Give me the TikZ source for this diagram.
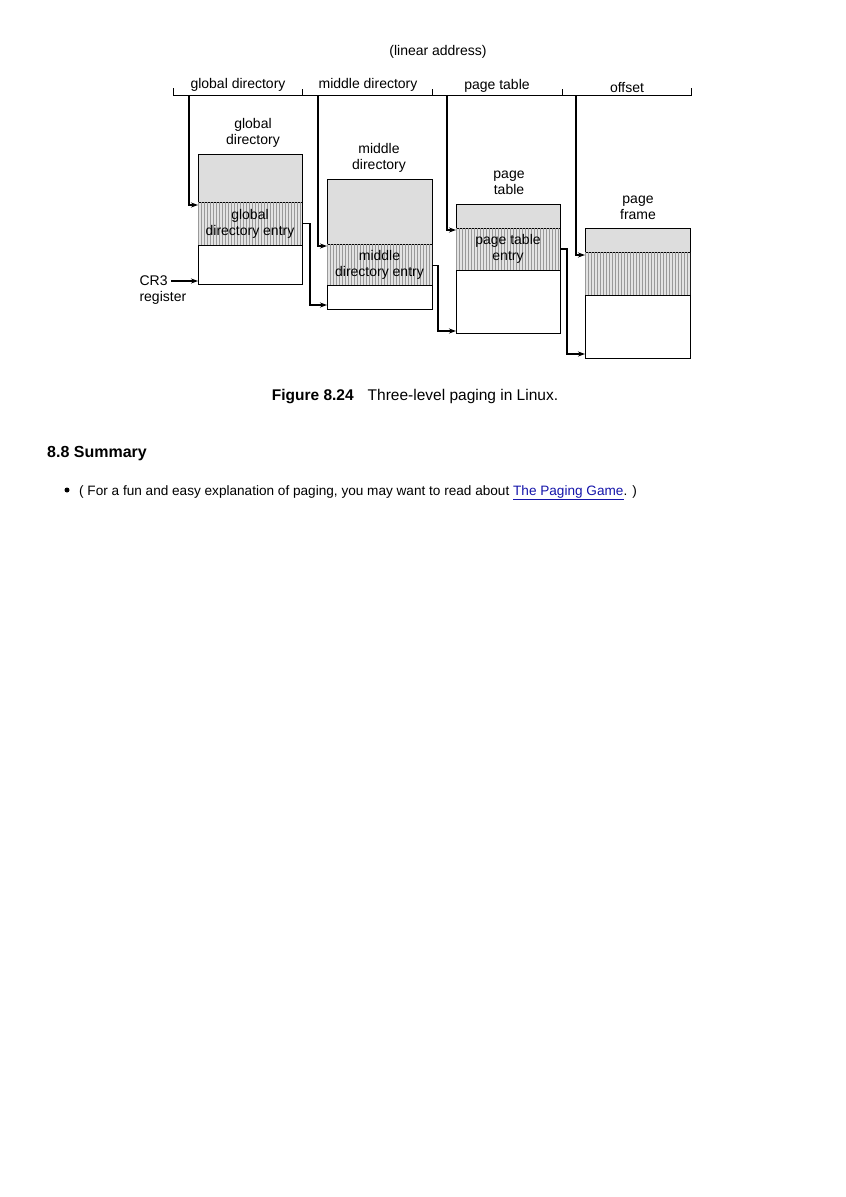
\documentclass[tikz,border=0pt]{standalone}
\usepackage{fontspec}
\setmainfont{Liberation Sans}
\usetikzlibrary{arrows.meta,patterns}
\definecolor{linkblue}{RGB}{20,20,170}
\begin{document}
\begin{tikzpicture}[x=1pt, y=-1pt,
  lbl/.style={align=center, font=\fontsize{14}{16}\selectfont},
  cell/.style={draw, line width=1pt, inner sep=0pt, outer sep=0pt, align=center, font=\fontsize{14}{16}\selectfont},
  upper/.style={cell, fill=gray!27},
  ent/.style={cell, fill=gray!22, postaction={pattern=vertical lines, pattern color=gray!80}},
  lower/.style={cell, fill=white},
  ptr/.style={-{Stealth[length=7pt,width=5pt]}, line width=1.2pt}
]
\useasboundingbox[fill=white] (0,0) rectangle (846,1197);

% linear address
\node[lbl] (la) at (438,52) {(linear address)};
\draw[line width=1pt] (173,88) -- (173,95) -- (691,95) -- (691,88);
\foreach \x in {302,432,562} \draw[line width=1pt] (\x,89) -- (\x,95);
\node[lbl] (fgd) at (238,85) {global directory};
\node[lbl] (fmd) at (368,85) {middle directory};
\node[lbl] (fpt) at (497,86) {page table};
\node[lbl] (foff) at (627,87) {offset};

% global directory
\node[lbl] (lgd) at (253,133) {global\\directory};
\node[upper, minimum width=104pt, minimum height=48pt] (gdtop) at (250,178) {};
\node[ent, minimum width=104pt, minimum height=43pt, anchor=north] (gdent) at (gdtop.south) {global\\directory entry};
\node[lower, minimum width=104pt, minimum height=39pt, anchor=north] (gdlow) at (gdent.south) {};

% middle directory
\node[lbl] (lmd) at (379,158) {middle\\directory};
\node[upper, minimum width=105pt, minimum height=65pt] (mdtop) at (379.5,211.5) {};
\node[ent, minimum width=105pt, minimum height=41pt, anchor=north] (mdent) at (mdtop.south) {middle\\directory entry};
\node[lower, minimum width=105pt, minimum height=24pt, anchor=north] (mdlow) at (mdent.south) {};

% page table
\node[lbl] (lpt) at (509,183) {page\\table};
\node[upper, minimum width=104pt, minimum height=24pt] (pttop) at (508,216) {};
\node[ent, minimum width=104pt, minimum height=42pt, anchor=north] (ptent) at (pttop.south) {page table\\entry};
\node[lower, minimum width=104pt, minimum height=63pt, anchor=north] (ptlow) at (ptent.south) {};

% page frame
\node[lbl] (lpf) at (638,208) {page\\frame};
\node[upper, minimum width=105pt, minimum height=24pt] (pftop) at (637.5,240) {};
\node[ent, minimum width=105pt, minimum height=43pt, anchor=north] (pfent) at (pftop.south) {};
\node[lower, minimum width=105pt, minimum height=63pt, anchor=north] (pflow) at (pfent.south) {};

% CR3
\node[lbl, anchor=west] (cr3) at (136,281) {CR3};
\node[lbl, anchor=west] (reg) at (136,298) {register};
\draw[ptr] (cr3.east) -- (cr3.east -| gdlow.west);

% fields to tables
\coordinate (sgd) at (189,95);
\coordinate (smd) at (318,95);
\coordinate (spt) at (447,95);
\coordinate (soff) at (576,95);
\draw[ptr] (sgd) |- ([yshift=-3pt]gdent.north west);
\draw[ptr] (smd) |- ([yshift=-2pt]mdent.north west);
\draw[ptr] (spt) |- ([yshift=-2pt]ptent.north west);
\draw[ptr] (soff) |- ([yshift=-3pt]pfent.north west);

% entries to next table
\draw[ptr] (gdent.east) -- ++(8,0) |- ([yshift=4pt]mdlow.south west);
\draw[ptr] ([yshift=-1pt]mdent.east) -- ++(6,0) |- ([yshift=2pt]ptlow.south west);
\draw[ptr] (ptent.east) -- ++(7,0) |- ([yshift=4pt]pflow.south west);

% caption and text
\node[font=\fontsize{15.5}{18}\selectfont] (cap) at (415,397) {\textbf{Figure 8.24}\hspace{14pt}Three-level paging in Linux.};
\node[anchor=west, inner sep=0pt, font=\bfseries\fontsize{16}{19}\selectfont] (sum) at (47,454) {8.8 Summary};
\node[circle, fill, inner sep=0pt, minimum size=5pt] (bul) at (67,490) {};
\node[anchor=base west, inner sep=0pt, font=\fontsize{13.6}{16}\selectfont] (txt) at (79,495) {( For a fun and easy explanation of paging, you may want to read about \textcolor{linkblue}{\underline{The Paging Game}}. )};
\end{tikzpicture}
\end{document}
